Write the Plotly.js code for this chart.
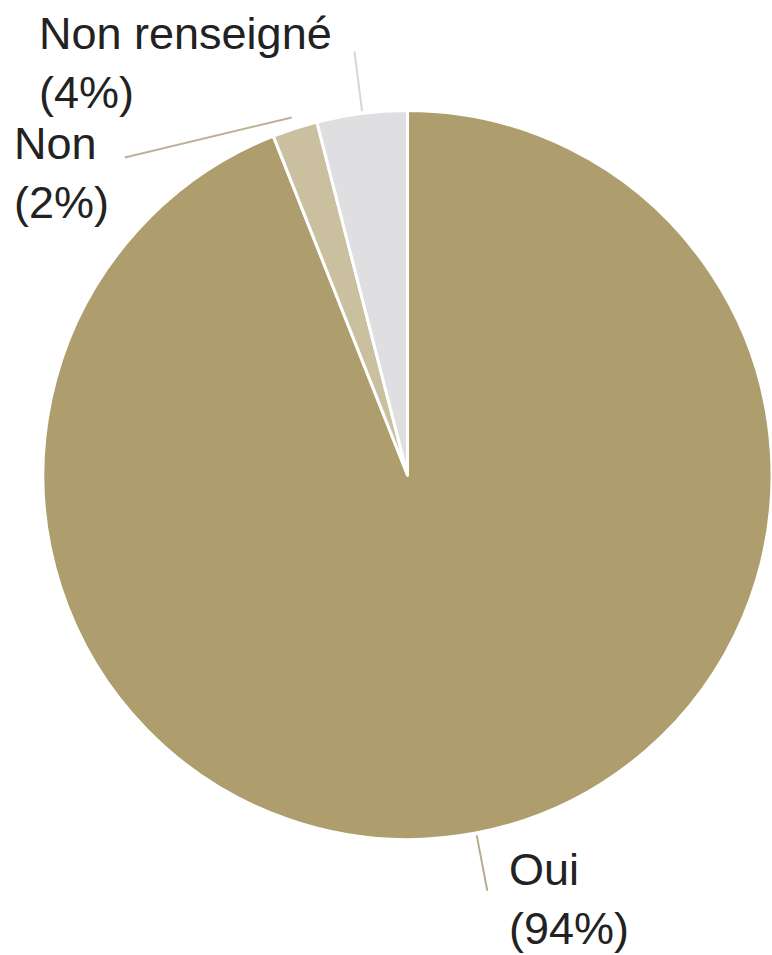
<!DOCTYPE html>
<html>
<head>
<meta charset="utf-8">
<script src="https://cdn.plot.ly/plotly-3.0.1.min.js"></script>
<style>html,body{margin:0;padding:0;background:#fff;}#chart{width:772px;height:955px;}</style>
</head>
<body>
<div id="chart"></div>
<script>
// Data
const categories = ["Oui", "Non", "Non renseigné"];
const percents = [94, 2, 4];
const colors = ["#AE9D6D", "#CABF9F", "#DFDFE1"];
const lineColors = ["#B8AC8C", "#BDB293", "#D6D6D8"];

// Layout geometry (pixels)
const W = 772, H = 955;
const cx = 408, cy = 475, R = 365;

// Label placement options (per category)
const labelOpts = [
  {r0: 1.005, r1: 1.16, dx: 0,    dy: 0,  tx: 20,  ty: 8,  xanchor: "left"},
  {r0: 1.03,  r1: 1.03, dx: -167, dy: 40, tx: -14, ty: 16, xanchor: "right"},
  {r0: 1.005, r1: 1.17, dx: 0,    dy: 0,  tx: -20, ty: 12, xanchor: "right"}
];

const px = x => x / W;
const py = y => 1 - y / H;

const total = percents.reduce((a, b) => a + b, 0);
let cum = 0;
const shapes = [], annotations = [];
percents.forEach((v, i) => {
  const mid = (cum + v / 2) / total * 2 * Math.PI; // clockwise from 12 o'clock
  cum += v;
  const o = labelOpts[i];
  const sx = cx + R * o.r0 * Math.sin(mid), sy = cy - R * o.r0 * Math.cos(mid);
  const ex = cx + R * o.r1 * Math.sin(mid) + o.dx, ey = cy - R * o.r1 * Math.cos(mid) + o.dy;
  shapes.push({type: "line", xref: "paper", yref: "paper",
    x0: px(sx), y0: py(sy), x1: px(ex), y1: py(ey),
    line: {color: lineColors[i], width: 2}});
  annotations.push({xref: "paper", yref: "paper", x: px(ex + o.tx), y: py(ey + o.ty),
    xanchor: o.xanchor, yanchor: "middle", align: "left", showarrow: false,
    text: categories[i] + "<br>(" + percents[i] + "%)",
    font: {family: "Liberation Sans, Arial, sans-serif", size: 45, color: "#222"}});
});

const trace = {
  type: "pie",
  labels: categories,
  values: percents,
  sort: false,
  direction: "clockwise",
  rotation: 0,
  textinfo: "none",
  hoverinfo: "label+percent",
  marker: {colors: colors, line: {color: "#ffffff", width: 3}},
  domain: {x: [px(cx - R), Math.min(1, px(cx + R))], y: [py(cy + R), py(cy - R)]}
};

const layout = {
  width: W, height: H,
  margin: {l: 0, r: 0, t: 0, b: 0},
  showlegend: false,
  paper_bgcolor: "#fff",
  shapes: shapes,
  annotations: annotations
};

Plotly.newPlot("chart", [trace], layout, {displayModeBar: false, staticPlot: true});
</script>
</body>
</html>
